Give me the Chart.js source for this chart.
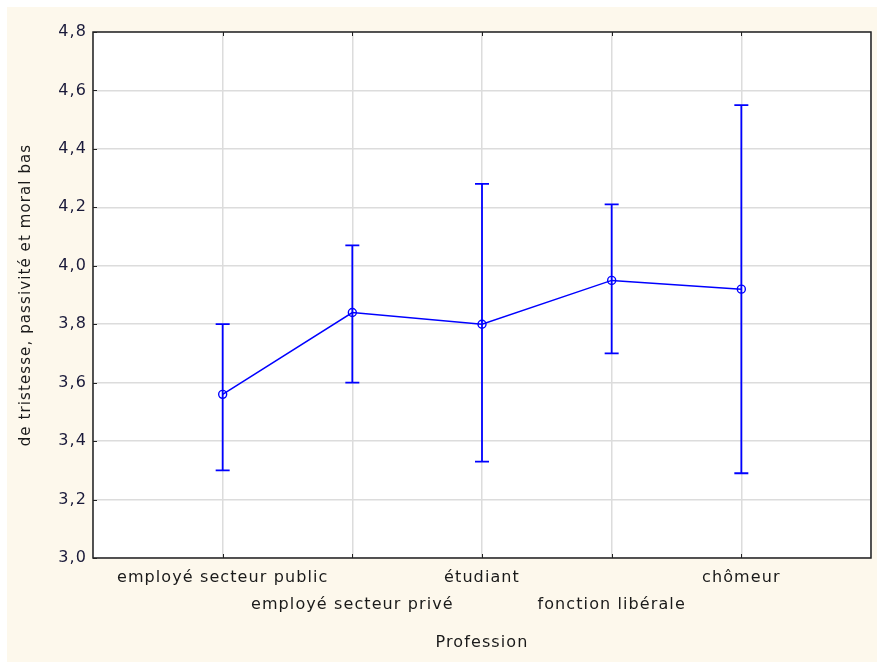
<!DOCTYPE html>
<html>
<head>
<meta charset="utf-8">
<script src="https://cdn.jsdelivr.net/npm/chart.js@4.4.1/dist/chart.umd.min.js"></script>
<style>
  html, body { margin: 0; padding: 0; background: #ffffff; }
  #wrap { width: 877px; height: 662px; position: relative; }
</style>
</head>
<body>
<div id="wrap"><canvas id="chart" width="877" height="662"></canvas></div>
<script>
// categories (Profession)
const professions = ['employé secteur public', 'employé secteur privé', 'étudiant', 'fonction libérale', 'chômeur'];
// means and confidence interval bounds
const means = [3.56, 3.84, 3.80, 3.95, 3.92];
const upper = [3.80, 4.07, 4.28, 4.21, 4.55];
const lower = [3.30, 3.60, 3.33, 3.70, 3.29];
const yTicks = [3.0, 3.2, 3.4, 3.6, 3.8, 4.0, 4.2, 4.4, 4.6, 4.8];

const blue = '#0000ff';
const fontFam = '"DejaVu Sans", Verdana, sans-serif';
const spacing = '1.1px';

const points = professions.map((p, i) => ({ x: i + 1, y: means[i] }));

// the original text is rather wide, spread the letters a bit
// (canvas resize wipes the context state, so set it again before layout and draw)
const spacingPlugin = {
  id: 'spacing',
  beforeUpdate(chart) { chart.ctx.letterSpacing = spacing; },
  beforeLayout(chart) { chart.ctx.letterSpacing = spacing; },
  beforeDraw(chart) { chart.ctx.letterSpacing = spacing; }
};

// cream background, white plot area
const backgroundPlugin = {
  id: 'bg',
  beforeDraw(chart) {
    const ctx = chart.ctx;
    const a = chart.chartArea;
    ctx.save();
    ctx.fillStyle = '#fdf8ec';
    ctx.fillRect(7, 7, chart.width - 7, chart.height - 7);
    ctx.fillStyle = '#ffffff';
    ctx.fillRect(a.left, a.top, a.right - a.left, a.bottom - a.top);
    ctx.restore();
  }
};

// whiskers for each mean
const errorBarPlugin = {
  id: 'errorBars',
  afterDatasetsDraw(chart) {
    const ctx = chart.ctx;
    const xs = chart.scales.x, ys = chart.scales.y;
    ctx.save();
    ctx.strokeStyle = blue;
    ctx.lineWidth = 1.8;
    professions.forEach((p, i) => {
      const x = xs.getPixelForValue(i + 1);
      const yt = ys.getPixelForValue(upper[i]);
      const yb = ys.getPixelForValue(lower[i]);
      ctx.beginPath();
      ctx.moveTo(x, yt); ctx.lineTo(x, yb);
      ctx.moveTo(x - 7, yt); ctx.lineTo(x + 7, yt);
      ctx.moveTo(x - 7, yb); ctx.lineTo(x + 7, yb);
      ctx.stroke();
    });
    ctx.restore();
  }
};

// plot frame and small inward tick marks
const framePlugin = {
  id: 'frame',
  afterDraw(chart) {
    const ctx = chart.ctx;
    const a = chart.chartArea;
    const xs = chart.scales.x, ys = chart.scales.y;
    ctx.save();
    ctx.strokeStyle = '#222222';
    ctx.lineWidth = 1.5;
    ctx.strokeRect(a.left, a.top, a.right - a.left, a.bottom - a.top);
    ctx.lineWidth = 1;
    ctx.beginPath();
    yTicks.forEach(v => {
      const y = Math.round(ys.getPixelForValue(v)) + 0.5;
      ctx.moveTo(a.left, y); ctx.lineTo(a.left + 4, y);
    });
    professions.forEach((p, i) => {
      const x = Math.round(xs.getPixelForValue(i + 1)) + 0.5;
      ctx.moveTo(x, a.bottom); ctx.lineTo(x, a.bottom - 4);
      ctx.moveTo(x, a.top); ctx.lineTo(x, a.top + 4);
    });
    ctx.stroke();
    ctx.restore();
  }
};

new Chart(document.getElementById('chart'), {
  type: 'line',
  data: {
    datasets: [{
      data: points,
      borderColor: blue,
      borderWidth: 1.5,
      pointRadius: 4,
      pointBorderWidth: 1.4,
      pointBackgroundColor: 'rgba(0,0,0,0)',
      pointBorderColor: blue,
      tension: 0
    }]
  },
  options: {
    responsive: false,
    animation: false,
    layout: { padding: { top: 32, right: -1, left: 0, bottom: 0 } },
    plugins: { legend: { display: false }, tooltip: { enabled: false } },
    scales: {
      x: {
        type: 'linear',
        min: 0,
        max: 6,
        afterBuildTicks(scale) {
          scale.ticks = [0, 1, 2, 3, 4, 5, 6].map(v => ({ value: v }));
        },
        afterFit(scale) { scale.height = 104; },
        grid: { color: '#dcdcdc', lineWidth: 1.5, drawTicks: false },
        border: { display: false },
        ticks: {
          padding: 6,
          maxRotation: 0,
          autoSkip: false,
          color: '#1a1a1a',
          font: { family: fontFam, size: 16, lineHeight: '27px' },
          callback(v) {
            if (v < 1 || v > 5) return '';
            const name = professions[v - 1];
            return (v % 2 === 1) ? [name, ''] : ['', name];
          }
        },
        title: {
          display: true,
          text: 'Profession',
          color: '#1a1a1a',
          font: { family: fontFam, size: 16 },
          padding: { top: 0, bottom: 10 }
        }
      },
      y: {
        min: 3.0,
        max: 4.8,
        afterBuildTicks(scale) {
          scale.ticks = yTicks.map(v => ({ value: v }));
        },
        afterFit(scale) { scale.width = 93; },
        grid: { color: '#dcdcdc', lineWidth: 1.5, drawTicks: false },
        border: { display: false },
        ticks: {
          padding: 6,
          color: '#1a1a3a',
          font: { family: fontFam, size: 16 },
          callback(v) { return v.toFixed(1).replace('.', ','); }
        },
        title: {
          display: true,
          text: 'de tristesse, passivité et moral bas',
          color: '#1a1a1a',
          font: { family: fontFam, size: 15 },
          padding: { top: 17, bottom: 0 }
        }
      }
    }
  },
  plugins: [spacingPlugin, backgroundPlugin, errorBarPlugin, framePlugin]
});
</script>
</body>
</html>
